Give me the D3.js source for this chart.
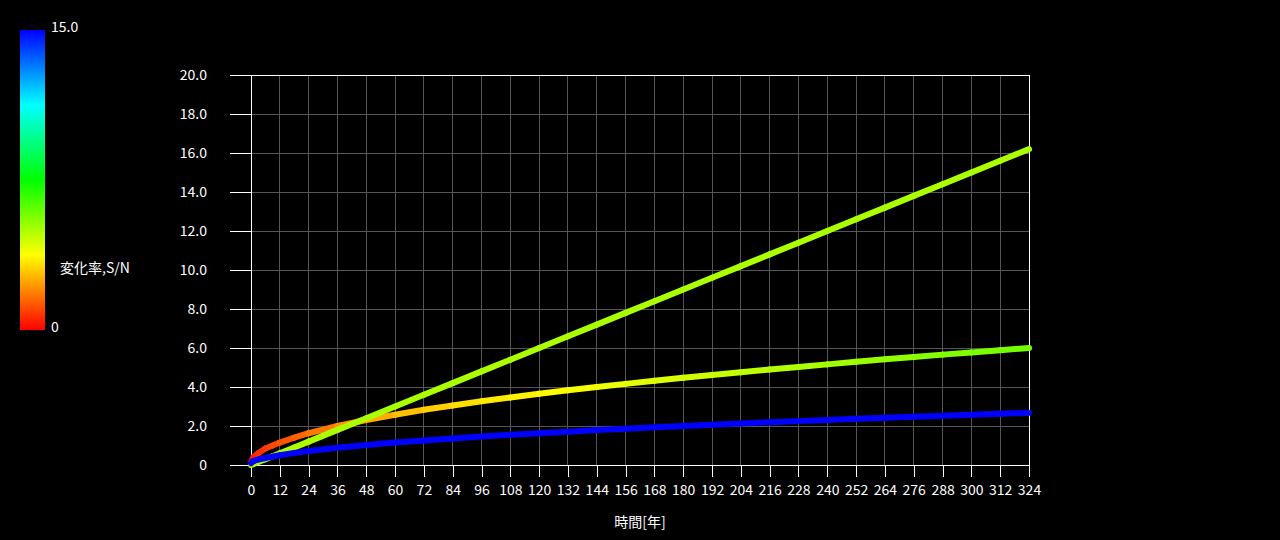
<!DOCTYPE html>
<html>
<head>
<meta charset="utf-8">
<script src="https://cdn.jsdelivr.net/npm/d3@7"></script>
<style>
  body { margin: 0; background: #000; }
  svg { display: block; }
  text { fill: #fff; font-family: "Noto Sans CJK JP", "Noto Sans", sans-serif; }
</style>
</head>
<body>
<div id="chart"></div>
<script>
// time points [years]
const years = [0, 1, 2, 3, 6, 9, 12, 18, 24, 36, 48, 60, 72, 84, 96, 108, 120, 132, 144,
  156, 168, 180, 192, 204, 216, 228, 240, 252, 264, 276, 288, 300, 312, 324];

// linear series (yellow-green)
const linValues = [0, 0.05, 0.1, 0.15, 0.3, 0.45, 0.6, 0.9, 1.2, 1.8, 2.4, 3.0, 3.6, 4.2, 4.8,
  5.4, 6.0, 6.6, 7.2, 7.8, 8.4, 9.0, 9.6, 10.2, 10.8, 11.4, 12.0, 12.6, 13.2, 13.8, 14.4, 15.0, 15.6, 16.2];
const linRate = [5.0, 5.0, 5.0, 5.0, 5.0, 5.0, 5.0, 5.0, 5.0, 5.0, 5.0, 5.0, 5.0, 5.0, 5.0,
  5.0, 5.0, 5.0, 5.0, 5.0, 5.0, 5.0, 5.0, 5.0, 5.0, 5.0, 5.0, 5.0, 5.0, 5.0, 5.0, 5.0, 5.0, 5.0];

// curved series (red -> yellow -> green)
const sqrtValues = [0.15, 0.4, 0.5, 0.6, 0.85, 1.0, 1.15, 1.4, 1.63, 2.0, 2.31, 2.58, 2.83, 3.05,
  3.27, 3.46, 3.65, 3.83, 4.0, 4.16, 4.32, 4.47, 4.62, 4.76, 4.9, 5.03, 5.16, 5.29, 5.42, 5.54,
  5.66, 5.77, 5.89, 6.0];
const sqrtRate = [0.1, 0.3, 0.5, 0.6, 0.8, 1.0, 1.15, 1.35, 1.55, 2.0, 2.4, 2.7, 2.95, 3.15,
  3.35, 3.5, 3.65, 3.78, 3.92, 4.05, 4.2, 4.35, 4.5, 4.65, 4.8, 4.95, 5.05, 5.2, 5.3, 5.45,
  5.55, 5.65, 5.75, 5.85];

// low series (blue)
const lowValues = [0.1, 0.2, 0.25, 0.28, 0.36, 0.43, 0.5, 0.62, 0.72, 0.89, 1.03, 1.15, 1.26,
  1.36, 1.46, 1.55, 1.63, 1.71, 1.79, 1.86, 1.93, 2.0, 2.07, 2.13, 2.19, 2.25, 2.31, 2.37,
  2.42, 2.48, 2.53, 2.58, 2.63, 2.68];
const lowRate = [15, 15, 15, 15, 15, 15, 15, 15, 15, 15, 15, 15, 15, 15, 15, 15, 15, 15, 15,
  15, 15, 15, 15, 15, 15, 15, 15, 15, 15, 15, 15, 15, 15, 15];

const xTicks = d3.range(0, 325, 12);
const yTicks = [0, 2, 4, 6, 8, 10, 12, 14, 16, 18, 20];
const colorStops = [0, 3.75, 7.5, 11.25, 15];
const colorRange = ['#ff0000', '#ffff00', '#00ff00', '#00ffff', '#0000ff'];

const W = 1280, H = 540;
const svg = d3.select('#chart').append('svg').attr('width', W).attr('height', H);

const x = d3.scaleLinear().domain([0, 324]).range([251, 1029]);
const y = d3.scaleLinear().domain([0, 20]).range([465, 75]);
const color = d3.scaleLinear().domain(colorStops).range(colorRange).clamp(true);

// grid
svg.append('g')
  .selectAll('line.vg')
  .data(xTicks.slice(1))
  .join('line')
  .attr('x1', d => x(d)).attr('x2', d => x(d))
  .attr('y1', y(0)).attr('y2', y(20))
  .attr('stroke', '#555').attr('shape-rendering', 'crispEdges');
svg.append('g')
  .selectAll('line.hg')
  .data(yTicks.slice(1))
  .join('line')
  .attr('x1', x(0)).attr('x2', x(324))
  .attr('y1', d => y(d)).attr('y2', d => y(d))
  .attr('stroke', d => d === 20 ? '#fff' : '#555').attr('shape-rendering', 'crispEdges');

// axes
const yAxis = d3.axisLeft(y).tickValues(yTicks).tickSize(21).tickPadding(2)
  .tickFormat(d => d === 0 ? '0' : d3.format('.1f')(d));
const gy = svg.append('g').attr('transform', `translate(${x(0)},0)`).call(yAxis);
const xAxis = d3.axisBottom(x).tickValues(xTicks).tickSize(12).tickPadding(8);
const gx = svg.append('g').attr('transform', `translate(0,${y(0)})`).call(xAxis);
[gy, gx].forEach(g => {
  g.select('.domain').remove();
  g.selectAll('line').attr('stroke', '#fff').attr('shape-rendering', 'crispEdges');
  g.selectAll('text').attr('fill', '#fff').style('font-size', '14px')
    .style('font-family', '"Noto Sans CJK JP", sans-serif');
});
gy.selectAll('text').attr('x', -44);

// frame
svg.append('line').attr('x1', 230).attr('x2', x(324)).attr('y1', y(0)).attr('y2', y(0))
  .attr('stroke', '#fff').attr('shape-rendering', 'crispEdges');
svg.append('line').attr('x1', x(0)).attr('x2', x(0)).attr('y1', y(0)).attr('y2', y(20))
  .attr('stroke', '#fff').attr('shape-rendering', 'crispEdges');
svg.append('line').attr('x1', x(324)).attr('x2', x(324)).attr('y1', y(0)).attr('y2', y(20))
  .attr('stroke', '#fff').attr('shape-rendering', 'crispEdges');

// coloured lines, drawn segment by segment
function drawSeries(vals, rates, cls) {
  const pts = years.map((t, i) => ({t, v: vals[i], c: rates[i]}));
  const segs = d3.pairs(pts);
  svg.append('g').attr('class', cls)
    .selectAll('line')
    .data(segs)
    .join('line')
    .attr('x1', d => x(d[0].t)).attr('y1', d => y(d[0].v))
    .attr('x2', d => x(d[1].t)).attr('y2', d => y(d[1].v))
    .attr('stroke', d => color((d[0].c + d[1].c) / 2))
    .attr('stroke-width', 6)
    .attr('stroke-linecap', 'round');
}
drawSeries(sqrtValues, sqrtRate, 'sqrt');
drawSeries(linValues, linRate, 'lin');
drawSeries(lowValues, lowRate, 'low');

svg.append('text').attr('x', x(162)).attr('y', 523)
  .attr('text-anchor', 'middle').attr('dominant-baseline', 'middle')
  .style('font-size', '14px').text('時間[年]');

// colour bar
const grad = svg.append('defs').append('linearGradient').attr('id', 'cbar')
  .attr('x1', 0).attr('y1', 1).attr('x2', 0).attr('y2', 0);
grad.selectAll('stop').data(colorStops).join('stop')
  .attr('offset', d => d / 15).attr('stop-color', d => color(d));
const cb = d3.scaleLinear().domain([0, 15]).range([330, 30]);
svg.append('rect').attr('x', 20).attr('y', cb(15)).attr('width', 25)
  .attr('height', cb(0) - cb(15)).attr('fill', 'url(#cbar)');
svg.append('text').attr('x', 51).attr('y', cb(15) - 2).attr('dominant-baseline', 'middle')
  .style('font-size', '14px').text('15.0');
svg.append('text').attr('x', 51).attr('y', cb(0) - 2).attr('dominant-baseline', 'middle')
  .style('font-size', '14px').text('0');
svg.append('text').attr('x', 60).attr('y', 269).attr('dominant-baseline', 'middle')
  .style('font-size', '14px').text('変化率,S/N');
</script>
</body>
</html>
